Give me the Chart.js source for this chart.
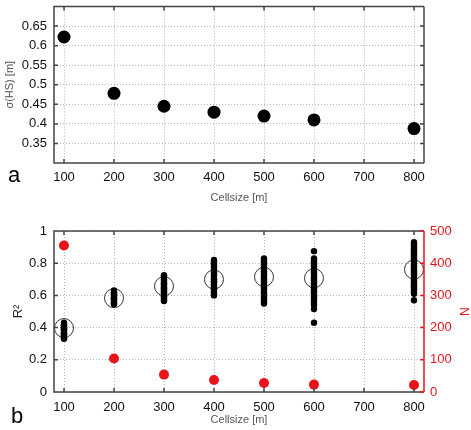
<!DOCTYPE html>
<html>
<head>
<meta charset="utf-8">
<script src="https://cdn.jsdelivr.net/npm/chart.js@4.4.0/dist/chart.umd.min.js"></script>
<style>
  body { margin: 0; background: #fff; }
  #wrap { position: relative; width: 471px; height: 430px; overflow: hidden; font-family: 'Liberation Sans', Arial, sans-serif; }
  canvas { position: absolute; left: 0; }
  #chartA { top: 0; width: 471px; height: 210px; }
  #chartB { top: 210px; width: 471px; height: 220px; }
  .panel { position: absolute; font-size: 22px; line-height: 22px; color: #000; }
</style>
</head>
<body>
<div id="wrap">
  <canvas id="chartA" width="471" height="210"></canvas>
  <canvas id="chartB" width="471" height="220"></canvas>
  <div class="panel" style="left:8px; top:164px;">a</div>
  <div class="panel" style="left:11px; top:405px;">b</div>
</div>
<script>
// --- Datos ---
const cellsizes = [100, 200, 300, 400, 500, 600, 800];
const xTicks = [100, 200, 300, 400, 500, 600, 700, 800];

// Panel a: sigma(HS)
const sigmaHS = [0.622, 0.478, 0.445, 0.430, 0.420, 0.410, 0.388];
const sigmaTicks = [0.35, 0.4, 0.45, 0.5, 0.55, 0.6, 0.65];

// Panel b: R2 medio, N y R2 individuales
const r2Mean = [0.397, 0.583, 0.657, 0.699, 0.715, 0.707, 0.761];
const nCount = [455, 104, 54, 37, 28, 23, 22];
const r2Ticks = [0, 0.2, 0.4, 0.6, 0.8, 1];
const nTicks = [0, 100, 200, 300, 400, 500];

const r2At100 = [0.33, 0.335, 0.34, 0.35, 0.355, 0.36, 0.365, 0.37, 0.38, 0.385, 0.39, 0.395, 0.40, 0.405, 0.41, 0.415, 0.42, 0.43];
const r2At200 = [0.545, 0.55, 0.555, 0.56, 0.57, 0.575, 0.58, 0.585, 0.59, 0.60, 0.605, 0.61, 0.615, 0.62, 0.63];
const r2At300 = [0.565, 0.57, 0.58, 0.59, 0.595, 0.60, 0.61, 0.62, 0.625, 0.63, 0.64, 0.645, 0.65, 0.66, 0.67, 0.675, 0.68, 0.69, 0.70, 0.71, 0.72, 0.725];
const r2At400 = [0.60, 0.61, 0.62, 0.63, 0.64, 0.645, 0.65, 0.66, 0.67, 0.68, 0.685, 0.69, 0.70, 0.71, 0.72, 0.73, 0.74, 0.75, 0.76, 0.77, 0.78, 0.79, 0.80, 0.81, 0.82];
const r2At500 = [0.55, 0.56, 0.57, 0.58, 0.59, 0.60, 0.61, 0.62, 0.63, 0.64, 0.65, 0.66, 0.67, 0.68, 0.69, 0.70, 0.71, 0.72, 0.73, 0.74, 0.75, 0.76, 0.77, 0.78, 0.79, 0.80, 0.81, 0.82, 0.83];
const r2At600 = [0.43, 0.515, 0.54, 0.555, 0.57, 0.58, 0.59, 0.60, 0.61, 0.62, 0.63, 0.64, 0.65, 0.66, 0.67, 0.68, 0.69, 0.70, 0.71, 0.72, 0.73, 0.74, 0.75, 0.76, 0.77, 0.78, 0.79, 0.80, 0.81, 0.82, 0.83, 0.875];
const r2At800 = [0.57, 0.61, 0.62, 0.63, 0.64, 0.65, 0.66, 0.67, 0.68, 0.69, 0.70, 0.71, 0.72, 0.73, 0.74, 0.75, 0.76, 0.77, 0.78, 0.79, 0.80, 0.81, 0.82, 0.83, 0.84, 0.85, 0.86, 0.87, 0.88, 0.89, 0.90, 0.91, 0.92, 0.93];
const r2Individual = [r2At100, r2At200, r2At300, r2At400, r2At500, r2At600, r2At800];

// --- Estilos ---
Chart.defaults.font.family = "'Liberation Sans', Arial, sans-serif";
const FRAME = '#444';
const RED = '#e8141c';
const GRID = '#b4b4b4';

const points = (xs, ys) => xs.map((x, i) => ({ x: x, y: ys[i] }));
const setTicks = list => scale => { scale.ticks = list.map(v => ({ value: v })); };

// Ancho fijo del eje y sin el relleno extra que añade Chart.js por las etiquetas
const fixWidth = w => s => { s.width = w; s.paddingTop = 0; s.paddingBottom = 0; };

/**
 * Dibuja el marco del área y las marcas de los ticks hacia dentro.
 */
function framePlugin(rightColor, rightScaleId) {
  return {
    id: 'frame',
    afterDraw(chart) {
      const { ctx, chartArea: a, scales } = chart;
      const tl = 4;
      ctx.save();
      ctx.lineWidth = 1.5;
      ctx.strokeStyle = FRAME;
      ctx.beginPath();
      ctx.moveTo(a.right, a.top); ctx.lineTo(a.left, a.top);
      ctx.lineTo(a.left, a.bottom); ctx.lineTo(a.right, a.bottom);
      scales.x.ticks.forEach(t => {
        const px = scales.x.getPixelForValue(t.value);
        ctx.moveTo(px, a.bottom); ctx.lineTo(px, a.bottom - tl);
        ctx.moveTo(px, a.top); ctx.lineTo(px, a.top + tl);
      });
      scales.y.ticks.forEach(t => {
        const py = scales.y.getPixelForValue(t.value);
        ctx.moveTo(a.left, py); ctx.lineTo(a.left + tl, py);
        if (!rightScaleId) { ctx.moveTo(a.right, py); ctx.lineTo(a.right - tl, py); }
      });
      ctx.stroke();
      ctx.strokeStyle = rightColor;
      ctx.beginPath();
      ctx.moveTo(a.right, a.top); ctx.lineTo(a.right, a.bottom);
      if (rightScaleId) {
        const s = scales[rightScaleId];
        s.ticks.forEach(t => {
          const py = s.getPixelForValue(t.value);
          ctx.moveTo(a.right, py); ctx.lineTo(a.right - tl, py);
        });
      }
      ctx.stroke();
      ctx.restore();
    }
  };
}

function xScale(height, tickPad, titlePad) {
  return {
    type: 'linear', min: 80, max: 820,
    afterBuildTicks: setTicks(xTicks),
    afterFit: s => { s.height = height; },
    grid: { color: GRID, lineWidth: 1, drawTicks: false },
    border: { display: false, dash: [1, 2] },
    ticks: { color: '#111', font: { size: 13 }, padding: tickPad, maxRotation: 0 },
    title: { display: true, text: 'Cellsize [m]', color: '#555', font: { size: 11 }, padding: { top: 0, bottom: titlePad } }
  };
}

// --- Panel a ---
new Chart(document.getElementById('chartA'), {
  type: 'scatter',
  data: {
    datasets: [{
      data: points(cellsizes, sigmaHS),
      pointRadius: 6.5,
      pointBackgroundColor: '#000',
      pointBorderWidth: 0
    }]
  },
  options: {
    responsive: false,
    animation: false,
    events: [],
    layout: { padding: { top: 4, right: 47, left: 0, bottom: 0 } },
    plugins: { legend: { display: false }, tooltip: { enabled: false } },
    scales: {
      x: xScale(47, 7, 5),
      y: {
        min: 0.3, max: 0.7,
        afterBuildTicks: setTicks(sigmaTicks),
        afterFit: fixWidth(54),
        grid: { color: GRID, lineWidth: 1, drawTicks: false },
        border: { display: false, dash: [1, 2] },
        ticks: { color: '#111', font: { size: 13 }, padding: 7, callback: v => String(v) },
        title: { display: true, text: 'σ(HS) [m]', color: '#555', font: { size: 11 }, padding: { top: 3, bottom: 0 } }
      }
    }
  },
  plugins: [framePlugin(FRAME, null)]
});

// --- Panel b ---
const individualPoints = [];
r2Individual.forEach((list, i) => {
  list.forEach(v => individualPoints.push({ x: cellsizes[i], y: v }));
});

new Chart(document.getElementById('chartB'), {
  type: 'scatter',
  data: {
    datasets: [
      {
        data: points(cellsizes, nCount),
        yAxisID: 'y2',
        order: 1,
        pointRadius: 5,
        pointBackgroundColor: RED,
        pointBorderWidth: 0
      },
      {
        data: individualPoints,
        yAxisID: 'y',
        order: 2,
        pointRadius: 3.2,
        pointBackgroundColor: '#000',
        pointBorderWidth: 0
      },
      {
        data: points(cellsizes, r2Mean),
        yAxisID: 'y',
        order: 3,
        pointRadius: 9.5,
        pointBackgroundColor: 'rgba(0,0,0,0)',
        pointBorderColor: '#333',
        pointBorderWidth: 1
      }
    ]
  },
  options: {
    responsive: false,
    animation: false,
    events: [],
    layout: { padding: { top: 21, right: 0, left: 0, bottom: 0 } },
    plugins: { legend: { display: false }, tooltip: { enabled: false } },
    scales: {
      x: xScale(38, 8, 3),
      y: {
        position: 'left',
        min: 0, max: 1,
        afterBuildTicks: setTicks(r2Ticks),
        afterFit: fixWidth(54),
        grid: { color: GRID, lineWidth: 1, drawTicks: false },
        border: { display: false, dash: [1, 2] },
        ticks: { color: '#111', font: { size: 13 }, padding: 7, callback: v => String(v) },
        title: { display: true, text: 'R²', color: '#222', font: { size: 13 }, padding: { top: 11, bottom: 0 } }
      },
      y2: {
        position: 'right',
        min: 0, max: 500,
        afterBuildTicks: setTicks(nTicks),
        afterFit: fixWidth(47),
        grid: { drawOnChartArea: false, drawTicks: false },
        border: { display: false },
        ticks: { color: RED, font: { size: 13 }, padding: 6, callback: v => String(v) },
        title: { display: true, text: 'N', color: RED, font: { size: 12 }, padding: { top: 0, bottom: 0 } }
      }
    }
  },
  plugins: [framePlugin(RED, 'y2')]
});
</script>
</body>
</html>
